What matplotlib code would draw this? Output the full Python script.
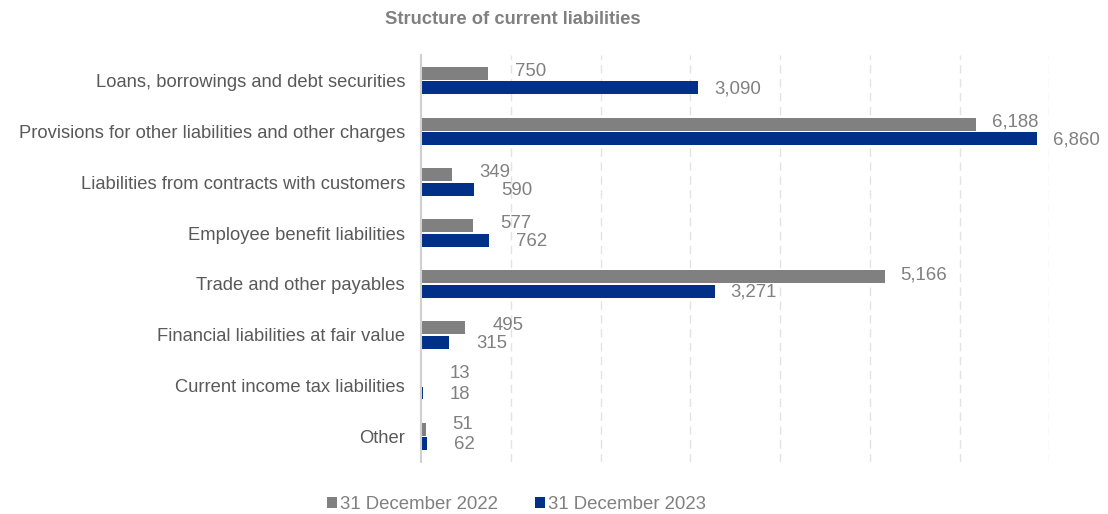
import matplotlib
matplotlib.use("Agg")
import matplotlib.pyplot as plt
import numpy as np

categories = [
    "Loans, borrowings and debt securities",
    "Provisions for other liabilities and other charges",
    "Liabilities from contracts with customers",
    "Employee benefit liabilities",
    "Trade and other payables",
    "Financial liabilities at fair value",
    "Current income tax liabilities",
    "Other",
]
values_2022 = [750, 6188, 349, 577, 5166, 495, 13, 51]
values_2023 = [3090, 6860, 590, 762, 3271, 315, 18, 62]
series_names = ["31 December 2022", "31 December 2023"]

plt.rcParams['font.family'] = ['Liberation Sans', 'DejaVu Sans']

DPI = 100
fig = plt.figure(figsize=(11.08, 5.14), dpi=DPI)
ax = fig.add_axes([0.38, 0.101, 0.567, 0.792])

def px(p):
    return p * 72.0 / DPI

c22 = "#808080"
c23 = "#003087"
y = np.arange(len(categories))
h = 0.255
gap = 0.03
b1 = ax.barh(y - h/2 - gap/2, values_2022, height=h, color=c22, label=series_names[0])
b2 = ax.barh(y + h/2 + gap/2, values_2023, height=h, color=c23, label=series_names[1])

FS = 13.4
label_color = "#808080"
for yi, v in zip(y, values_2022):
    txt = f"{v:,}"
    dx = 16 if len(txt) >= 5 else 27
    dy = 5 if v < 100 else 2
    ax.annotate(txt, (v, yi - h/2 - gap/2), xytext=(px(dx), px(dy)), textcoords="offset points",
                ha="left", va="center", fontsize=FS, color=label_color)
for yi, v in zip(y, values_2023):
    txt = f"{v:,}"
    dx = 16 if len(txt) >= 5 else 27
    ax.annotate(txt, (v, yi + h/2 + gap/2), xytext=(px(dx), px(-1)), textcoords="offset points",
                ha="left", va="center", fontsize=FS, color=label_color)

ax.set_xlim(0, 7000)
ax.set_ylim(7.5, -0.5)
ax.set_yticks(y)
ax.set_yticklabels(categories, fontsize=13.2, color="#595959")
ax.set_xticks(np.arange(1000, 7001, 1000))
ax.tick_params(axis='x', length=0, labelbottom=False)
ax.tick_params(axis='y', length=0, pad=px(16))
ax.grid(axis='x', color="#e3e3e3", linestyle=(0, (6, 4)), linewidth=1)
ax.set_axisbelow(True)
for s in ["top", "right", "bottom"]:
    ax.spines[s].set_visible(False)
ax.spines["left"].set_color("#d0d0d0")
ax.spines["left"].set_linewidth(1.5)

fig.text(0.463, 0.962, "Structure of current liabilities", ha="center", va="center",
         fontsize=13.2, fontweight="bold", color="#808080")

leg = fig.legend(handles=[b1, b2], labels=series_names, loc="center", bbox_to_anchor=(0.466, 0.019),
                 ncol=2, frameon=False, fontsize=FS, handlelength=0.55, handleheight=0.55,
                 handletextpad=0.15, columnspacing=2.0, labelcolor="#808080")

fig.savefig("out.png", dpi=DPI)
